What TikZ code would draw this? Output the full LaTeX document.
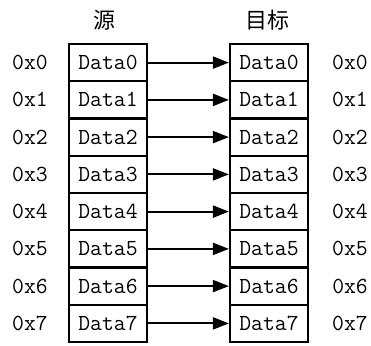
\documentclass[tikz,border=0pt]{standalone}
\usepackage{fontspec}
\newfontfamily\cjkfont{Noto Sans CJK SC}
\usetikzlibrary{arrows.meta}

\begin{document}
\begin{tikzpicture}[x=1pt, y=-1pt,
        box/.style={draw, line width=2.2pt, minimum width=78pt, minimum height=37.25pt, inner sep=0pt, font=\ttfamily\fontsize{23}{23}\selectfont},
        addr/.style={font=\ttfamily\fontsize{23}{23}\selectfont},
        title/.style={font=\cjkfont\fontsize{22}{22}\selectfont},
        link/.style={line width=2pt, -{Triangle[length=16pt, width=12pt]}}]
        \useasboundingbox (0, 0) rectangle (371, 345);

        \node[title] (src-title) at (104, 20) {源};
        \node[title] (dst-title) at (267, 20) {目标};

        % row 0
        \node[addr] (addrL0) at (30, 62.6) {0x0};
        \node[box] (src0) at (108, 62.6) {Data0};
        \node[box] (dst0) at (269, 62.6) {Data0};
        \node[addr] (addrR0) at (350, 62.6) {0x0};
        \draw[link] (src0) -- (dst0);

        % row 1
        \node[addr] (addrL1) at (30, 99.9) {0x1};
        \node[box] (src1) at (108, 99.9) {Data1};
        \node[box] (dst1) at (269, 99.9) {Data1};
        \node[addr] (addrR1) at (350, 99.9) {0x1};
        \draw[link] (src1) -- (dst1);

        % row 2
        \node[addr] (addrL2) at (30, 137.1) {0x2};
        \node[box] (src2) at (108, 137.1) {Data2};
        \node[box] (dst2) at (269, 137.1) {Data2};
        \node[addr] (addrR2) at (350, 137.1) {0x2};
        \draw[link] (src2) -- (dst2);

        % row 3
        \node[addr] (addrL3) at (30, 174.4) {0x3};
        \node[box] (src3) at (108, 174.4) {Data3};
        \node[box] (dst3) at (269, 174.4) {Data3};
        \node[addr] (addrR3) at (350, 174.4) {0x3};
        \draw[link] (src3) -- (dst3);

        % row 4
        \node[addr] (addrL4) at (30, 211.6) {0x4};
        \node[box] (src4) at (108, 211.6) {Data4};
        \node[box] (dst4) at (269, 211.6) {Data4};
        \node[addr] (addrR4) at (350, 211.6) {0x4};
        \draw[link] (src4) -- (dst4);

        % row 5
        \node[addr] (addrL5) at (30, 248.9) {0x5};
        \node[box] (src5) at (108, 248.9) {Data5};
        \node[box] (dst5) at (269, 248.9) {Data5};
        \node[addr] (addrR5) at (350, 248.9) {0x5};
        \draw[link] (src5) -- (dst5);

        % row 6
        \node[addr] (addrL6) at (30, 286.1) {0x6};
        \node[box] (src6) at (108, 286.1) {Data6};
        \node[box] (dst6) at (269, 286.1) {Data6};
        \node[addr] (addrR6) at (350, 286.1) {0x6};
        \draw[link] (src6) -- (dst6);

        % row 7
        \node[addr] (addrL7) at (30, 323.4) {0x7};
        \node[box] (src7) at (108, 323.4) {Data7};
        \node[box] (dst7) at (269, 323.4) {Data7};
        \node[addr] (addrR7) at (350, 323.4) {0x7};
        \draw[link] (src7) -- (dst7);

    \end{tikzpicture}
\end{document}
